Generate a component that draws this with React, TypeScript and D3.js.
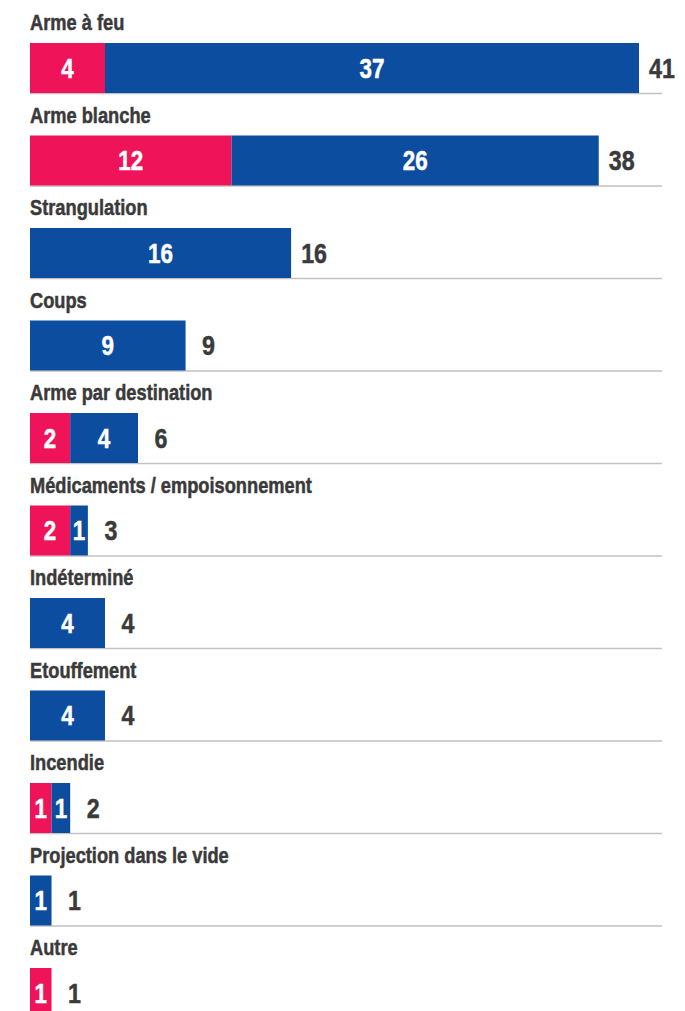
import { useMemo } from "react";
import * as d3 from "d3";

const categories = [
    "Arme à feu",
    "Arme blanche",
    "Strangulation",
    "Coups",
    "Arme par destination",
    "Médicaments / empoisonnement",
    "Indéterminé",
    "Etouffement",
    "Incendie",
    "Projection dans le vide",
    "Autre",
];

// pink series, then blue series
const pinkValues = [4, 12, 0, 0, 2, 2, 0, 0, 1, 0, 1];
const blueValues = [37, 26, 16, 9, 4, 1, 4, 4, 1, 1, 0];

const keys = ["pink", "blue"];
const colors: Record<string, string> = { pink: "#ef135a", blue: "#0d4d9f" };

const width = 685;
const height = 1011;
const left = 30;
const lineEnd = 662;
const barHeight = 50;
// no condensed font installed, so squeeze Liberation Sans horizontally
const font = "'Liberation Sans', Arial, sans-serif";
const squeeze = 0.83;

function Narrow({ x, y, size, fill, anchor = "start", children }: any) {
    return (
        <text
            transform={`translate(${x},${y}) scale(${squeeze},1)`}
            fontSize={size}
            fill={fill}
            stroke={fill}
            strokeWidth={0.5}
            textAnchor={anchor}
        >
            {children}
        </text>
    );
}

export default function App() {
    const rows = useMemo(
        () =>
            categories.map((c, i) => ({
                category: c,
                pink: pinkValues[i],
                blue: blueValues[i],
                total: pinkValues[i] + blueValues[i],
            })),
        []
    );

    const series = useMemo(() => d3.stack<any>().keys(keys)(rows), [rows]);

    const maxTotal = d3.max(rows, (d) => d.total) as number;

    const x = d3.scalePow().exponent(0.9).domain([0, maxTotal]).range([left, left + 609]);

    const y = d3
        .scaleBand<string>()
        .domain(categories)
        .range([43, 43 + categories.length * 92.5])
        .paddingInner(0);

    return (
        <svg
            width={width}
            height={height}
            style={{ position: "absolute", left: 0, top: 0, display: "block" }}
            fontFamily={font}
            fontWeight="bold"
        >
            <rect width={width} height={height} fill="#ffffff" />
            {rows.map((d) => {
                const top = y(d.category) as number;
                return (
                    <g key={d.category}>
                        <Narrow x={left} y={top - 13} size={22} fill="#3a3a3a">
                            {d.category}
                        </Narrow>
                        <line
                            x1={left}
                            x2={lineEnd}
                            y1={top + barHeight + 0.5}
                            y2={top + barHeight + 0.5}
                            stroke="#c2c2c2"
                            strokeWidth={1.5}
                        />
                    </g>
                );
            })}
            {series.map((s) => (
                <g key={s.key}>
                    {s.map((p: any) => {
                        const v = p[1] - p[0];
                        if (v <= 0) return null;
                        const top = y(p.data.category) as number;
                        const x0 = x(p[0]);
                        const x1 = x(p[1]);
                        return (
                            <g key={p.data.category}>
                                <rect x={x0} y={top} width={x1 - x0} height={barHeight} fill={colors[s.key]} />
                                <Narrow
                                    x={(x0 + x1) / 2}
                                    y={top + barHeight / 2 + 9.5}
                                    anchor="middle"
                                    size={27}
                                    fill="#ffffff"
                                >
                                    {v}
                                </Narrow>
                            </g>
                        );
                    })}
                </g>
            ))}
            {rows.map((d) => {
                const top = y(d.category) as number;
                return (
                    <Narrow
                        key={d.category}
                        x={x(d.total) + 23}
                        y={top + barHeight / 2 + 9.5}
                        anchor="middle"
                        size={28}
                        fill="#3a3a3a"
                    >
                        {d.total}
                    </Narrow>
                );
            })}
        </svg>
    );
}
